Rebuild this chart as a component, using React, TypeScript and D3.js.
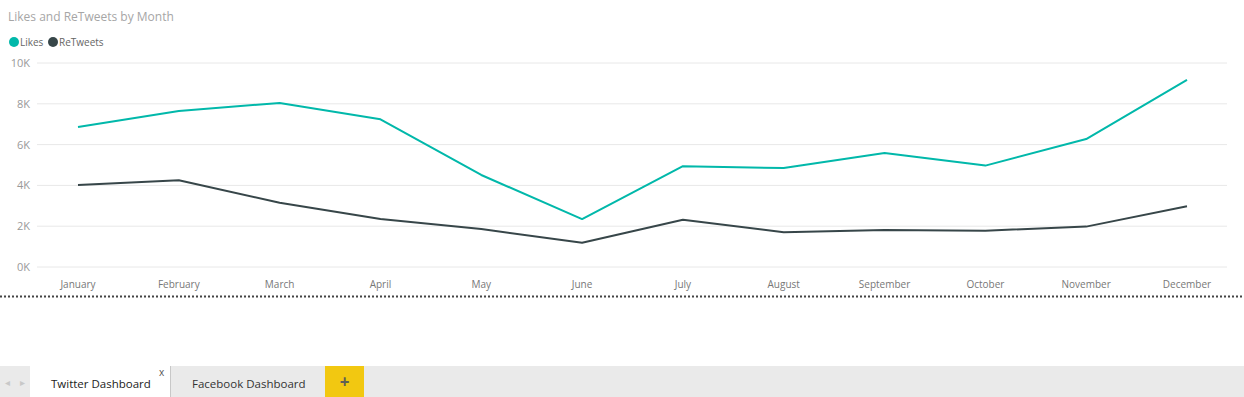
import React from "react";
import * as d3 from "d3";

const months = ["January","February","March","April","May","June","July","August","September","October","November","December"];
const likes = [6860, 7650, 8040, 7240, 4510, 2350, 4940, 4850, 5590, 4970, 6270, 9170];
const retweets = [4020, 4250, 3150, 2350, 1860, 1190, 2320, 1700, 1810, 1780, 1980, 2980];
const yTicks = [0, 2000, 4000, 6000, 8000, 10000];
const seriesNames = ["Likes", "ReTweets"];
const colors = ["#01B8AA", "#374649"];

const W = 1244, H = 397;
const font = "'Segoe UI', 'Open Sans', 'Noto Sans', sans-serif";

export default function App() {
  const x = d3.scalePoint<string>().domain(months).range([78, 1187]);
  const y = d3.scaleLinear().domain([0, 10000]).range([267, 63]);
  const line = d3.line<number>().x((_, i) => x(months[i]) as number).y(d => y(d));
  const series = [likes, retweets];
  return (
    <svg width={W} height={H} style={{ position: "absolute", left: 0, top: 0, background: "#fff" }} fontFamily={font}>
      <text x={8} y={21} fontSize={12} fill="#a6a6a6">Likes and ReTweets by Month</text>
      {/* legend */}
      <circle cx={14} cy={42} r={5} fill={colors[0]} />
      <text x={20} y={46} fontSize={10} fill="#666">{seriesNames[0]}</text>
      <circle cx={53} cy={42} r={5} fill={colors[1]} />
      <text x={59} y={46} fontSize={10} fill="#666">{seriesNames[1]}</text>
      {/* grid */}
      {yTicks.map(t => (
        <g key={t}>
          <line x1={37} x2={1227} y1={y(t)} y2={y(t)} stroke="#e8e8e8" strokeWidth={1} />
          <text x={30} y={y(t) + 4} fontSize={11} fill="#999" textAnchor="end">{`${t / 1000}K`}</text>
        </g>
      ))}
      {months.map(m => (
        <text key={m} x={x(m)} y={288} fontSize={10} fill="#777" textAnchor="middle">{m}</text>
      ))}
      {series.map((s, i) => (
        <path key={i} d={line(s) || ""} fill="none" stroke={colors[i]} strokeWidth={2} strokeLinejoin="round" />
      ))}
      {/* dotted separator */}
      <line x1={0} x2={W} y1={296.5} y2={296.5} stroke="#444" strokeWidth={2} strokeDasharray="2,2" />
      {/* tab bar */}
      <rect x={0} y={366} width={W} height={31} fill="#eaeaea" />
      <text x={5} y={386} fontSize={10} fill="#c8c8c8">◂</text>
      <text x={20} y={386} fontSize={10} fill="#c8c8c8">▸</text>
      <rect x={30} y={366} width={140} height={31} fill="#fff" />
      <line x1={170.5} x2={170.5} y1={366} y2={397} stroke="#c8c8c8" />
      <text x={51} y={388} fontSize={11.5} fill="#222">Twitter Dashboard</text>
      <text x={159} y={376} fontSize={10} fill="#555">x</text>
      <text x={192} y={388} fontSize={11.5} fill="#333">Facebook Dashboard</text>
      <rect x={325} y={366} width={39} height={31} fill="#F2C811" />
      <text x={344.5} y={388} fontSize={17} fontWeight="bold" fill="#5f5f55" textAnchor="middle">+</text>
    </svg>
  );
}
